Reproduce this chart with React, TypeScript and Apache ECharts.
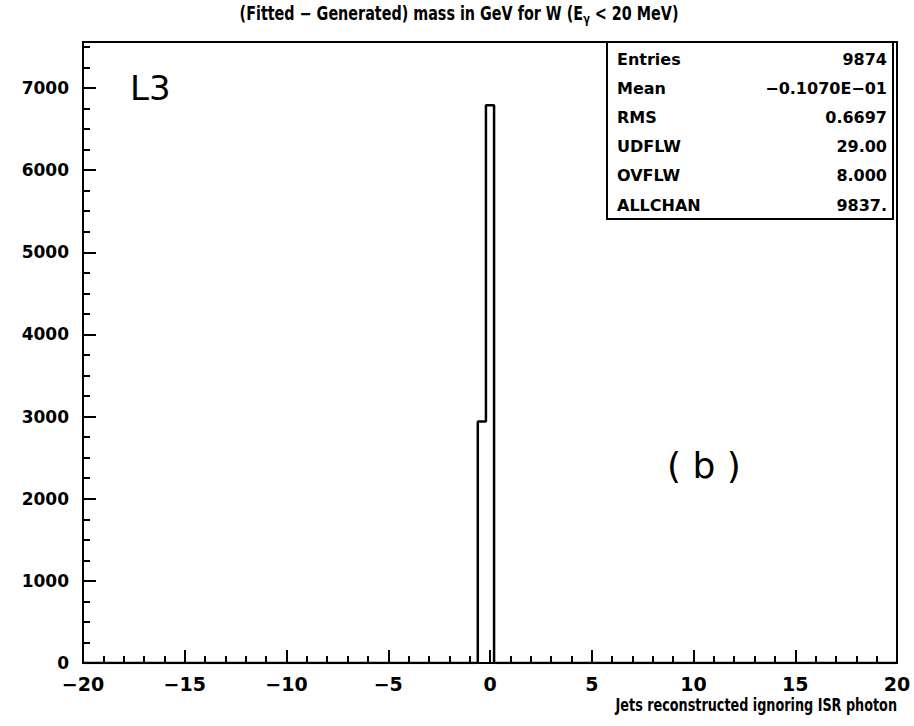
import React, { useEffect, useRef } from "react";
import * as echarts from "echarts";

// Histogram: bin edges (GeV) and counts per bin
const binEdges = [-20, -0.6, -0.2, 0.2, 20];
const binCounts = [0, 2940, 6790, 0];

const xMin = -20;
const xMax = 20;
const yMax = 7560;

const titleText = "(Fitted − Generated) mass in GeV for W (E";
const titleSub = "γ";
const titleEnd = " < 20 MeV)";
const xAxisTitle = "Jets reconstructed ignoring ISR photon";

const statLabels = ["Entries", "Mean", "RMS", "UDFLW", "OVFLW", "ALLCHAN"];
const statValues = ["9874", "−0.1070E−01", "0.6697", "29.00", "8.000", "9837."];

const COND = "'DejaVu Sans Condensed', 'Liberation Sans Narrow', 'DejaVu Sans', sans-serif";
const SANS = "'DejaVu Sans', sans-serif";

export default function App() {
  const ref = useRef<HTMLDivElement>(null);
  useEffect(() => {
    if (!ref.current) return;
    const chart = echarts.init(ref.current, undefined, { renderer: "svg" });

    // step data: each bin drawn at its count from its low edge to the next edge
    const stepData: [number, number][] = [];
    for (let i = 0; i < binCounts.length; i++) {
      stepData.push([binEdges[i], binCounts[i]]);
    }
    stepData.push([binEdges[binEdges.length - 1], 0]);

    const boxLeft = 607;
    const boxRight = 893;
    const boxTop = 42;
    const rowH = 29.2;
    const statGraphics: any[] = [
      {
        type: "rect",
        shape: { x: boxLeft, y: boxTop, width: boxRight - boxLeft, height: 177 },
        style: { fill: "#fff", stroke: "#000", lineWidth: 2 },
        z: 100,
      },
    ];
    statLabels.forEach((lab, i) => {
      statGraphics.push({
        type: "text",
        x: boxLeft + 10,
        y: boxTop + 17 + i * rowH,
        style: { text: lab, font: `bold 16px ${SANS}`, fill: "#000", textVerticalAlign: "middle", textAlign: "left" },
        z: 101,
      });
      statGraphics.push({
        type: "text",
        x: boxRight - 6,
        y: boxTop + 17 + i * rowH,
        style: { text: statValues[i], font: `bold 16px ${SANS}`, fill: "#000", textVerticalAlign: "middle", textAlign: "right" },
        z: 101,
      });
    });

    chart.setOption({
      animation: false,
      backgroundColor: "#fff",
      grid: {
        left: 83,
        right: 17,
        top: 42,
        bottom: 63,
        show: true,
        borderColor: "#000",
        borderWidth: 2,
        backgroundColor: "transparent",
      },
      xAxis: {
        type: "value",
        min: xMin,
        max: xMax,
        interval: 5,
        axisLine: { show: true, onZero: false, lineStyle: { color: "#000", width: 2 } },
        axisTick: { show: true, inside: true, length: 13, lineStyle: { color: "#000", width: 2 } },
        minorTick: { show: true, splitNumber: 5, length: 7, lineStyle: { color: "#000", width: 2 } },
        splitLine: { show: false },
        axisLabel: {
          margin: 11,
          color: "#000",
          fontFamily: SANS,
          fontWeight: "bold",
          fontSize: 19,
          formatter: (v: number) => (v < 0 ? "−" + Math.abs(v) : String(v)),
        },
      },
      yAxis: {
        type: "value",
        min: 0,
        max: yMax,
        interval: 1000,
        axisLine: { show: true, onZero: false, lineStyle: { color: "#000", width: 2 } },
        axisTick: { show: true, inside: true, length: 13, lineStyle: { color: "#000", width: 2 } },
        minorTick: { show: true, splitNumber: 4, length: 7, lineStyle: { color: "#000", width: 2 } },
        splitLine: { show: false },
        axisLabel: {
          margin: 14,
          color: "#000",
          fontFamily: SANS,
          fontWeight: "bold",
          fontSize: 17,
          showMaxLabel: false,
          formatter: (v: number) => String(v),
        },
      },
      series: [
        {
          type: "line",
          step: "end",
          data: stepData,
          symbol: "none",
          lineStyle: { color: "#000", width: 2.5 },
          z: 10,
        },
      ],
      graphic: [
        ...statGraphics,
        {
          type: "text",
          x: 459,
          y: 14,
          scaleX: 0.84,
          style: {
            text: `{a|${titleText}}{s|${titleSub}}{a|${titleEnd}}`,
            textAlign: "center",
            textVerticalAlign: "middle",
            rich: {
              a: { fontFamily: COND, fontSize: 19, fill: "#000", fontWeight: "bold" },
              s: { fontFamily: COND, fontSize: 13, fill: "#000", fontWeight: "bold", padding: [9, 0, 0, 0] },
            },
          },
        },
        {
          type: "text",
          x: 897,
          y: 705,
          scaleX: 0.79,
          style: { text: xAxisTitle, font: `bold 18px ${COND}`, fill: "#000", textAlign: "right", textVerticalAlign: "middle" },
        },
        {
          type: "text",
          x: 130,
          y: 88,
          style: { text: "L3", font: `34px ${SANS}`, fill: "#000", textAlign: "left", textVerticalAlign: "middle" },
        },
        {
          type: "text",
          x: 667,
          y: 465,
          style: { text: "( b )", font: `36px ${SANS}`, fill: "#000", textAlign: "left", textVerticalAlign: "middle" },
        },
      ],
    });
    return () => chart.dispose();
  }, []);
  return <div ref={ref} style={{ width: 914, height: 726, position: "absolute", left: 0, top: 0 }} />;
}
